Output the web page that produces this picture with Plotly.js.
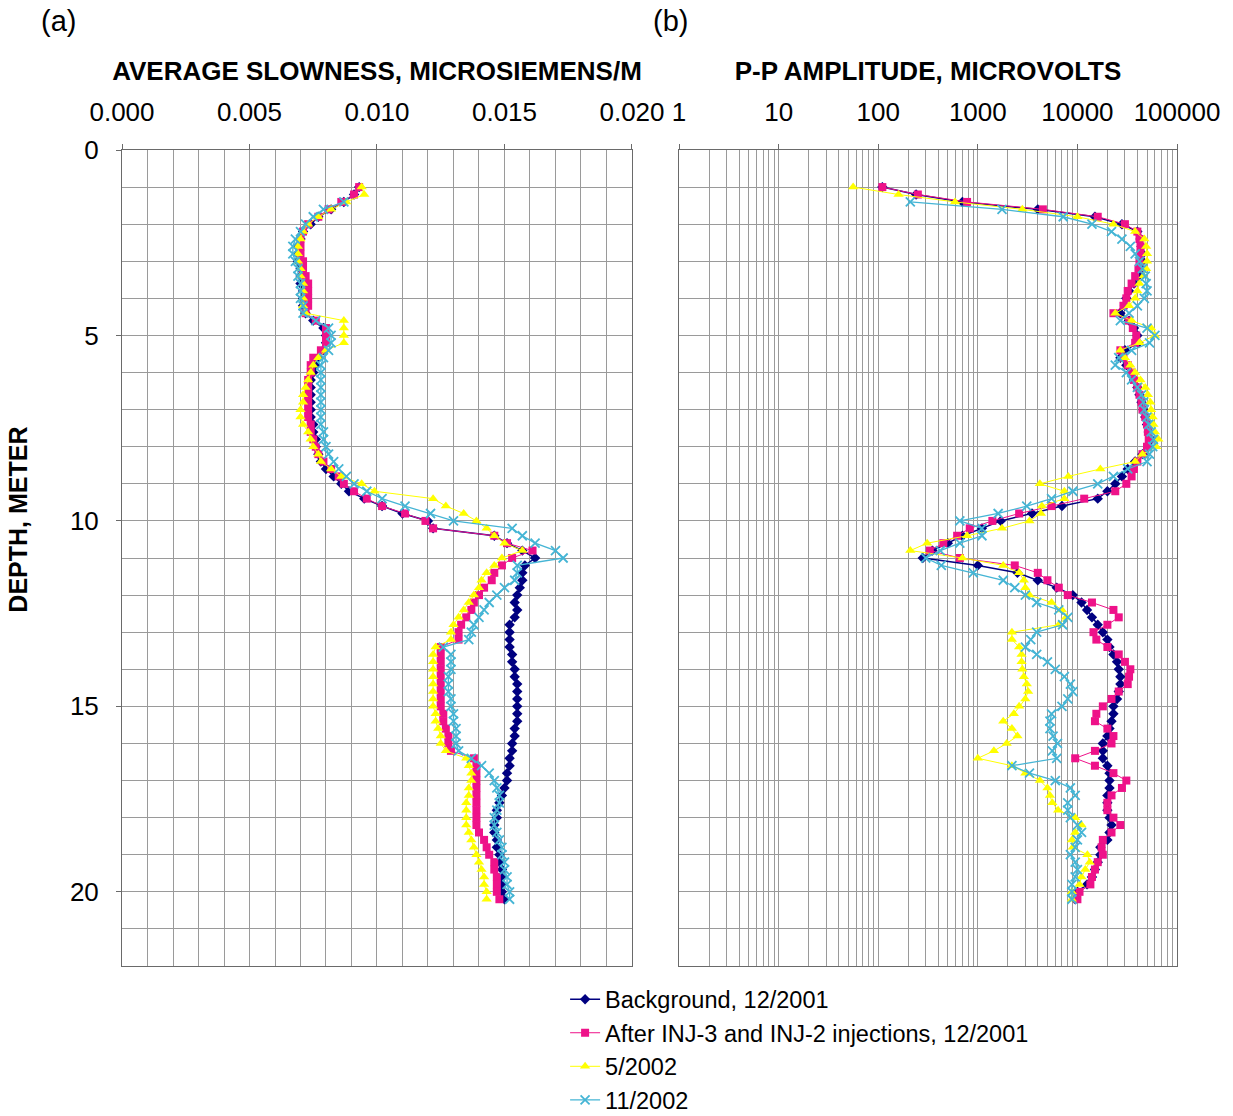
<!DOCTYPE html>
<html>
<head>
<meta charset="utf-8">
<script src="https://cdn.plot.ly/plotly-3.0.1.min.js"></script>
<style>html,body{margin:0;padding:0;background:#fff;}#chart{width:1233px;height:1116px;}</style>
</head>
<body>
<div id="chart"></div>
<script>
// Depth (m) of each measurement
const depth = [1.0,1.2,1.4,1.6,1.8,2.0,2.2,2.4,2.6,2.8,3.0,3.2,3.4,3.6,3.8,4.0,4.2,4.4,4.6,4.8,
  5.0,5.2,5.4,5.6,5.8,6.0,6.2,6.4,6.6,6.8,7.0,7.2,7.4,7.6,7.8,8.0,8.2,8.4,8.6,8.8,
  9.0,9.2,9.4,9.6,9.8,10.0,10.2,10.4,10.6,10.8,11.0,11.2,11.4,11.6,11.8,12.0,12.2,12.4,12.6,12.8,
  13.0,13.2,13.4,13.6,13.8,14.0,14.2,14.4,14.6,14.8,15.0,15.2,15.4,15.6,15.8,16.0,16.2,16.4,16.6,16.8,
  17.0,17.2,17.4,17.6,17.8,18.0,18.2,18.4,18.6,18.8,19.0,19.2,19.4,19.6,19.8,20.0,20.2];

const seriesNames = ["Background, 12/2001", "After INJ-3 and INJ-2 injections, 12/2001", "5/2002", "11/2002"];

// Tick labels of the amplitude (log) axis
const ampTickVals = [1, 10, 100, 1000, 10000, 100000];
const ampTickText = ["1", "10", "100", "1000", "10000", "100000"];

// (a) Average slowness
const slowBackground = [
  0.0093,0.0091,0.0087,0.0082,0.0077, 0.0074,0.0071,0.0070,0.0069,0.0069,
  0.0069,0.0070,0.0070,0.0070,0.0071, 0.0071,0.0071,0.0072,0.0075,0.0079,
  0.0080,0.0080,0.0079,0.0077,0.0076, 0.0075,0.0074,0.0074,0.0074,0.0074,
  0.0074,0.0074,0.0075,0.0075,0.0076, 0.0076,0.0077,0.0078,0.0080,0.0083,
  0.0086,0.0089,0.0095,0.0102,0.0110, 0.0120,0.0122,0.0146,0.0151,0.0157,
  0.0162,0.0158,0.0157,0.0157,0.0156, 0.0155,0.0154,0.0155,0.0154,0.0152,
  0.0152,0.0152,0.0152,0.0153,0.0153, 0.0154,0.0154,0.0155,0.0155,0.0155,
  0.0155,0.0155,0.0155,0.0154,0.0154, 0.0153,0.0153,0.0152,0.0152,0.0151,
  0.0151,0.0150,0.0149,0.0148,0.0147, 0.0147,0.0146,0.0146,0.0147,0.0147,
  0.0148,0.0148,0.0149,0.0149,0.0149, 0.0149,0.0150];
const slowAfterInj = [
  0.0093,0.0091,0.0086,0.0081,0.0077, 0.0073,0.0071,0.0070,0.0070,0.0070,
  0.0071,0.0071,0.0072,0.0073,0.0073, 0.0073,0.0073,0.0072,0.0076,0.0080,
  0.0080,0.0080,0.0078,0.0075,0.0074, 0.0074,0.0073,0.0073,0.0073,0.0073,
  0.0073,0.0073,0.0074,0.0074,0.0075, 0.0076,0.0077,0.0079,0.0082,0.0085,
  0.0087,0.0091,0.0096,0.0102,0.0111, 0.0119,0.0122,0.0146,0.0151,0.0161,
  0.0153,0.0149,0.0146,0.0145,0.0142, 0.0140,0.0138,0.0137,0.0135,0.0133,
  0.0132,0.0132,0.0125,0.0125,0.0125, 0.0125,0.0125,0.0125,0.0125,0.0125,
  0.0125,0.0126,0.0126,0.0127,0.0128, 0.0128,0.0129,0.0138,0.0139,0.0139,
  0.0139,0.0139,0.0139,0.0139,0.0139, 0.0139,0.0139,0.0140,0.0142,0.0143,
  0.0144,0.0146,0.0146,0.0147,0.0147, 0.0147,0.0148];
const slowMay2002 = [
  0.0094,0.0095,0.0088,0.0082,0.0077, 0.0073,0.0071,0.0070,0.0069,0.0069,
  0.0069,0.0070,0.0070,0.0071,0.0071, 0.0071,0.0071,0.0072,0.0087,0.0087,
  0.0087,0.0087,0.0080,0.0077,0.0075, 0.0074,0.0073,0.0072,0.0071,0.0071,
  0.0070,0.0070,0.0071,0.0073,0.0074, 0.0075,0.0077,0.0078,0.0082,0.0086,
  0.0094,0.0099,0.0122,0.0127,0.0134, 0.0139,0.0143,0.0146,0.0150,0.0157,
  0.0149,0.0146,0.0143,0.0141,0.0140, 0.0138,0.0136,0.0134,0.0132,0.0130,
  0.0129,0.0129,0.0123,0.0122,0.0122, 0.0122,0.0122,0.0122,0.0122,0.0122,
  0.0122,0.0123,0.0123,0.0124,0.0125, 0.0125,0.0127,0.0135,0.0136,0.0137,
  0.0137,0.0136,0.0136,0.0135,0.0135, 0.0135,0.0135,0.0136,0.0137,0.0138,
  0.0139,0.0140,0.0141,0.0142,0.0142, 0.0143,0.0143];
const slowNov2002 = [
  null,null,0.0087,0.0079,0.0075, 0.0072,0.0070,0.0068,0.0067,0.0067,
  0.0068,0.0069,0.0069,0.0070,0.0070, 0.0070,0.0071,0.0071,0.0076,0.0081,
  0.0082,0.0082,0.0081,0.0079,0.0078, 0.0078,0.0078,0.0078,0.0078,0.0078,
  0.0078,0.0078,0.0078,0.0079,0.0079, 0.0080,0.0081,0.0083,0.0085,0.0088,
  0.0091,0.0096,0.0102,0.0111,0.0121, 0.0130,0.0153,0.0157,0.0162,0.0170,
  0.0173,0.0155,0.0155,0.0154,0.0150, 0.0147,0.0144,0.0142,0.0140,0.0138,
  0.0137,0.0136,0.0126,0.0129,0.0129, 0.0129,0.0128,0.0128,0.0128,0.0129,
  0.0129,0.0130,0.0130,0.0131,0.0131, 0.0131,0.0132,0.0137,0.0141,0.0144,
  0.0146,0.0147,0.0148,0.0148,0.0147, 0.0146,0.0146,0.0147,0.0148,0.0149,
  0.0149,0.0150,0.0150,0.0151,0.0151, 0.0152,0.0152];

// (b) P-P amplitude, microvolts
const ampBackground = [
  110,240,700,4000,15000, 28000,40000,43000,44000,45000,
  45000,44000,41000,37000,33000, 31000,30000,27000,33000,37000,
  40000,41000,30000,27000,31000, 34000,37000,40000,42000,44000,
  46000,48000,50000,52000,55000, 52000,45000,38000,32000,28000,
  24000,20000,16000,7000,3500, 1700,1100,700,500,350,
  280,1000,2500,4000,6200, 9000,11000,12500,14000,16000,
  18000,20000,21000,23000,25000, 26000,27000,27000,26000,25000,
  23000,23000,22000,21000,20000, 18000,18000,18000,20000,21000,
  21000,21000,20000,20000,20000, 21000,22000,21000,20000,17000,
  17000,16000,15000,14000,12500, 10000,9500];
const ampAfterInj = [
  110,250,780,4500,16000, 30000,40000,42000,43000,43000,
  42000,41000,38000,35000,32000, 31000,29000,23000,33000,36000,
  39000,38000,27000,29000,32000, 35000,37000,40000,42000,44000,
  45000,48000,50000,51000,52000, 50000,45000,40000,37000,35000,
  31000,24000,11700,5500,2600, 1400,830,620,450,330,
  660,2350,4000,5000,6500, 8000,14000,23000,26000,20000,
  14500,15500,20000,26000,30000, 34000,33000,32000,26000,22000,
  18000,15500,15000,20000,23000, 22000,15000,9500,15000,23000,
  31000,28000,22000,20000,20000, 23000,27000,22000,18000,17500,
  18000,16000,15000,14000,13500, 10500,10000];
const ampMay2002 = [
  56,160,590,2800,10000, 23000,38000,47000,49000,50000,
  50000,49000,46000,42000,40000, 38000,33000,24000,35000,55000,
  60000,42000,27000,30000,34000, 38000,43000,48000,51000,54000,
  55000,57000,58000,60000,65000, 62000,45000,38000,17000,8100,
  4200,7400,7400,4400,4300, 3300,1750,780,310,210,
  700,1800,2600,2900,3000, 3300,5500,7000,7700,6500,
  2200,2200,2600,2750,2750, 2800,2900,3100,3200,3000,
  2600,2300,1800,2200,2500, 1950,1450,1000,2200,3000,
  4200,5000,5300,5600,6400, 9500,11000,9500,8800,9000,
  12600,13300,12000,11000,10500, 8800,8800];
const ampNov2002 = [
  null,null,210,1750,7200, 14000,22000,28000,34000,38000,
  42000,45000,48000,49000,50000, 47000,40000,33000,27000,50000,
  60000,53000,35000,26000,24000, 31000,35000,40000,44000,46000,
  47000,50000,52000,55000,58000, 57000,53000,50000,32000,23000,
  16000,9000,5500,3100,1600, 660,1100,1100,660,420,
  300,430,900,1800,2350, 3000,3900,6500,8000,7100,
  3900,3400,3000,3900,5000, 6000,7400,8500,9000,8000,
  7000,5500,5300,5300,5700, 6300,5600,6200,2200,3300,
  6000,8500,9500,8000,8000, 8500,10000,11000,10000,9500,
  8500,9500,10000,9500,8800, 8800,8800];

const colors = ["#000080", "#EE1289", "#FFFF00", "#45B5D5"];
const symbols = ["diamond", "square", "triangle-up", "x-thin"];
const sizes = [8, 8, 9, 9];
const widths = [1.5, 1, 1, 1.3];

const slowSeries = [slowBackground, slowAfterInj, slowMay2002, slowNov2002];
const ampSeries = [ampBackground, ampAfterInj, ampMay2002, ampNov2002];

function mk(i, xs, xa, ya, show) {
  const m = {symbol: symbols[i], size: sizes[i], color: colors[i]};
  if (symbols[i] === "x-thin") m.line = {color: colors[i], width: 1.8};
  else m.line = {width: 0};
  return {
    type: "scatter", mode: "lines+markers", name: seriesNames[i],
    x: xs, y: depth, xaxis: xa, yaxis: ya, showlegend: show,
    connectgaps: false,
    line: {color: colors[i], width: widths[i]}, marker: m
  };
}
const traces = [];
for (let i = 0; i < 4; i++) traces.push(mk(i, slowSeries[i], "x", "y", true));
for (let i = 0; i < 4; i++) traces.push(mk(i, ampSeries[i], "x2", "y2", false));

const FONT = "Liberation Sans, Arial, sans-serif";
const gridC = "#9a9a9a";
const lineC = "#6a6a6a";

const layout = {
  width: 1233, height: 1116,
  margin: {l: 122, r: 56, t: 150, b: 150, autoexpand: false},
  paper_bgcolor: "#fff", plot_bgcolor: "#fff",
  font: {family: FONT, size: 26, color: "#000"},
  showlegend: true,
  legend: {x: 0.4200, y: -0.014, xanchor: "left", yanchor: "top",
           font: {family: FONT, size: 23.5, color: "#000"}, tracegroupgap: 0,
           bgcolor: "rgba(0,0,0,0)", itemwidth: 30},
  xaxis: {
    domain: [0, 0.4834], side: "top", range: [0, 0.020], dtick: 0.005, tick0: 0,
    tickformat: ".3f", showgrid: true, gridcolor: gridC, gridwidth: 1,
    minor: {dtick: 0.001, showgrid: true, gridcolor: gridC, gridwidth: 1},
    showline: true, mirror: true, linecolor: lineC, linewidth: 1,
    ticks: "outside", ticklen: 5, tickcolor: lineC, ticklabelstandoff: 13,
    zeroline: false, anchor: "y",
    title: {text: "<b>AVERAGE SLOWNESS, MICROSIEMENS/M</b>", font: {size: 26}, standoff: 8}
  },
  yaxis: {
    domain: [0, 1], range: [22, 0], dtick: 5, tick0: 0,
    showgrid: true, gridcolor: gridC, gridwidth: 1,
    minor: {dtick: 1, showgrid: true, gridcolor: gridC, gridwidth: 1},
    showline: true, mirror: true, linecolor: lineC, linewidth: 1,
    ticks: "outside", ticklen: 5, tickcolor: lineC, ticklabelstandoff: 12,
    zeroline: false, anchor: "x"
  },
  xaxis2: {
    domain: [0.528, 1], side: "top", type: "log", range: [0, 5],
    tickmode: "array", tickvals: ampTickVals, ticktext: ampTickText,
    showgrid: true, gridcolor: gridC, gridwidth: 1,
    minor: {dtick: "D1", showgrid: true, gridcolor: gridC, gridwidth: 1},
    showline: true, mirror: true, linecolor: lineC, linewidth: 1,
    ticks: "outside", ticklen: 5, tickcolor: lineC, ticklabelstandoff: 13,
    zeroline: false, anchor: "y2",
    title: {text: "<b>P-P AMPLITUDE, MICROVOLTS</b>", font: {size: 26}, standoff: 8}
  },
  yaxis2: {
    domain: [0, 1], range: [22, 0], dtick: 5, tick0: 0, showticklabels: false,
    showgrid: true, gridcolor: gridC, gridwidth: 1,
    minor: {dtick: 1, showgrid: true, gridcolor: gridC, gridwidth: 1},
    showline: true, mirror: true, linecolor: lineC, linewidth: 1,
    ticks: "", zeroline: false, anchor: "x2", matches: "y"
  },
  annotations: [
    {text: "(a)", xref: "paper", yref: "paper", x: -0.06, y: 1.158, xanchor: "center", yanchor: "middle",
     showarrow: false, font: {family: FONT, size: 29}},
    {text: "(b)", xref: "paper", yref: "paper", x: 0.52, y: 1.158, xanchor: "center", yanchor: "middle",
     showarrow: false, font: {family: FONT, size: 29}},
    {text: "<b>DEPTH, METER</b>", xref: "paper", yref: "paper", x: -0.0986, y: 0.547,
     xanchor: "center", yanchor: "middle", textangle: -90, showarrow: false,
     font: {family: FONT, size: 25}}
  ]
};

Plotly.newPlot("chart", traces, layout, {displayModeBar: false, responsive: false});
</script>
</body>
</html>
